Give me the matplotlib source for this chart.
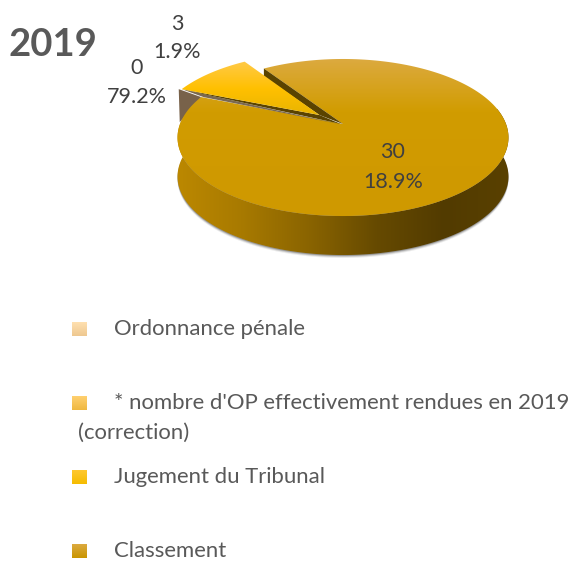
import numpy as np
import matplotlib
matplotlib.use("Agg")
import matplotlib.pyplot as plt
from matplotlib.colors import LinearSegmentedColormap
from matplotlib.patches import Polygon

# -----------------------------------------
# Data
# -----------------------------------------
categories = ["Ordonnance pénale",
              "* nombre d'OP effectivement rendues en 2019",
              "Jugement du Tribunal",
              "Classement"]
wrapped_label = "(correction)"
title = "2019"

# labels as printed on the chart
label_counts = ["0", "3", "30"]
label_percents = ["79.2%", "1.9%", "18.9%"]

# share of the disc as it is drawn (the printed labels do not match it)
drawn_shares = [9.5, 90.5]  # Jugement du Tribunal, Classement
first_angle = 123.7
explode_jugement = 0.19

# -----------------------------------------
# Fake 3D: unit circle -> perspective ellipse, in pixel coords
# -----------------------------------------
CX, CY = 343, 124
RX, RY, K = 163, 76.2, 0.172
DEPTH = 39


def project(x, y):
    f = 1 + K * y
    return CX + RX * x / f, CY - RY * y / f


def arc(a0, a1, off=(0, 0), n=200):
    t = np.radians(np.linspace(a0, a1, n))
    return project(np.cos(t) + off[0], np.sin(t) + off[1])


def gradient(ax, stops, extent, clip, horizontal=False):
    cmap = LinearSegmentedColormap.from_list("g", stops)
    g = np.linspace(0, 1, 256)
    g = g.reshape(1, -1) if horizontal else g.reshape(-1, 1)
    im = ax.imshow(g, cmap=cmap, extent=extent, aspect="auto", origin="upper", zorder=clip.get_zorder())
    im.set_clip_path(clip)


fig = plt.figure(figsize=(5.74, 5.61), dpi=100)
ax = fig.add_axes([0, 0, 1, 1])
plt.rcParams["font.family"] = ["Lato", "DejaVu Sans"]

split = first_angle + 360 * drawn_shares[0] / 100
mid = np.radians((first_angle + split) / 2)
off = (explode_jugement * np.cos(mid), explode_jugement * np.sin(mid))

# main slice outline, clockwise from the gap
main_x, main_y = arc(first_angle, split - 360)
apex = project(0, 0)

# soft shadow under the disc
low_x, low_y = arc(175, 372)
for d, a in [(3, 0.1), (2, 0.2), (1, 0.35)]:
    ax.add_patch(Polygon(np.c_[low_x, low_y + DEPTH + d], fc="#404040", ec="none", alpha=a, zorder=1))

# side wall
wall = Polygon(np.r_[np.c_[low_x, low_y], np.c_[low_x, low_y + DEPTH][::-1]], fc="none", ec="none", zorder=2)
ax.add_patch(wall)
gradient(ax, ["#bd8900", "#a87a00", "#8a6400", "#664a00", "#523b00", "#5a4100"],
         (CX - 170, CX + 170, 270, 100), wall, horizontal=True)

# brown sliver showing on the left, behind the main slice
jug_x, jug_y = arc(first_angle, split, off)
ax.add_patch(Polygon([(jug_x[-1] - 3, jug_y[-1]), (jug_x[-1] - 2, jug_y[-1] + 33), (main_x[-1], main_y[-1])],
                     fc="#78624a", ec="none", zorder=3))

# main slice top
top = Polygon(np.r_[np.c_[main_x, main_y], [apex]], fc="none", ec="none", zorder=4)
ax.add_patch(top)
gradient(ax, ["#dcaa40", "#d19c00", "#d09a00", "#cf9900"], (170, 515, 220, 58), top)

# wall of the cut along the start of the main slice
jug_apex = project(*off)
ax.add_patch(Polygon([(main_x[0], main_y[0]), apex, jug_apex, (main_x[0], main_y[0] + 8)],
                     fc="#5a4300", ec="none", zorder=5))

# jugement slice: its wall, then the top
ax.add_patch(Polygon([(jug_x[-1], jug_y[-1]), (apex[0] - 4, apex[1]), (jug_x[-1] + 22, jug_y[-1] + 8)],
                     fc="#7a6850", ec="none", zorder=5))
ax.add_patch(Polygon([(jug_x[-1], jug_y[-1]), jug_apex, (apex[0] - 2, apex[1]),
                      (jug_x[-1] + 22, jug_y[-1] + 5)],
                     fc="#5a4300", ec="none", zorder=6))
jug = Polygon(np.r_[np.c_[jug_x, jug_y], [jug_apex]], fc="none", ec="none", zorder=7)
ax.add_patch(jug)
gradient(ax, ["#ffca4a", "#ffc000", "#e6b300"], (170, 330, 118, 60), jug)

# -----------------------------------------
# Text
# -----------------------------------------
ax.text(8, 45, title, fontsize=27.5, fontweight="bold", color="#595959", ha="left", va="center")

label_pos = [(137, 68, 97), (177, 24, 52), (393, 152, 182)]
for count, pct, (x, y1, y2) in zip(label_counts, label_percents, label_pos):
    ax.text(x, y1, count, fontsize=15.5, color="#404040", ha="center", va="center", zorder=8)
    ax.text(x, y2, pct, fontsize=15.5, color="#404040", ha="center", va="center", zorder=8)

# -----------------------------------------
# Legend (swatches with gradient)
# -----------------------------------------
legend_y = [329, 403, 477, 551]
legend_stops = [["#ffe0b0", "#eec890"], ["#ffd070", "#efb840"], ["#ffc830", "#f5bc00"], ["#dcaa40", "#c99500"]]
for name, y, stops in zip(categories, legend_y, legend_stops):
    sw = Polygon([(72, y - 7), (87, y - 7), (87, y + 7), (72, y + 7)], fc="none", ec="none", zorder=3)
    ax.add_patch(sw)
    gradient(ax, stops, (72, 87, y + 7, y - 7), sw)
    ax.text(114, y, name, fontsize=15.9, color="#595959", ha="left", va="center")
ax.text(78, 433, wrapped_label, fontsize=15.9, color="#595959", ha="left", va="center")

ax.set_xlim(0, 574)
ax.set_ylim(561, 0)
ax.axis("off")

fig.savefig("out.png", dpi=100)
